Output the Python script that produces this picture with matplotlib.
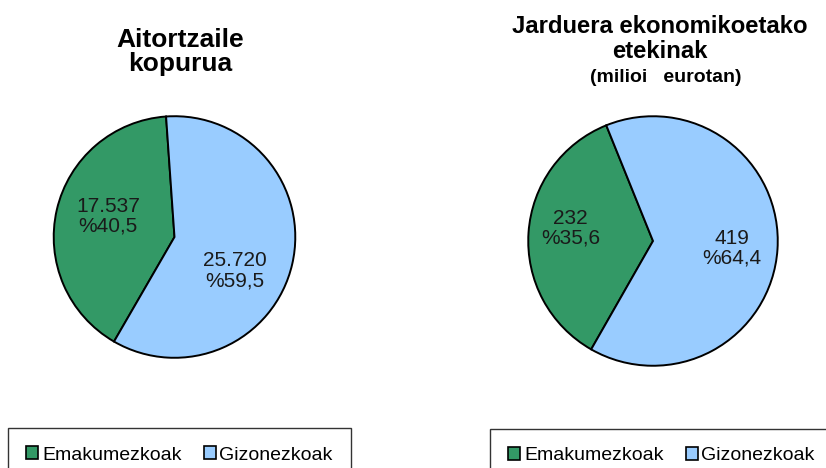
import matplotlib
matplotlib.use("Agg")
import matplotlib.pyplot as plt
from matplotlib.patches import Patch

plt.rcParams['font.family'] = ['Liberation Sans', 'DejaVu Sans']

categories = ["Emakumezkoak", "Gizonezkoak"]
colors = ["#339966", "#99ccff"]

# Aitortzaile kopurua
count_values = [17537, 25720]
count_labels = ["17.537", "25.720"]
count_pct = ["40,5", "59,5"]

# Jarduera ekonomikoetako etekinak (milioi eurotan)
income_values = [232, 419]
income_labels = ["232", "419"]
income_pct = ["35,6", "64,4"]

W, H = 826, 468
fig = plt.figure(figsize=(W / 100, H / 100), dpi=100)


def px_axes(cx, cy, r):
    return fig.add_axes([(cx - r) / W, (H - cy - r) / H, 2 * r / W, 2 * r / H])


def draw_pie(ax, values, labels, pcts, start, label_pos):
    texts = iter([f"{l}\n%{p}" for l, p in zip(labels, pcts)])
    wedges, _, autotexts = ax.pie(
        values, colors=colors, startangle=start, counterclock=True,
        autopct=lambda p: next(texts),
        wedgeprops=dict(edgecolor="black", linewidth=1.4),
        textprops=dict(fontsize=15, color="#1a1a1a", linespacing=1.05))
    # Excel-style label placement inside each slice
    for t, pos in zip(autotexts, label_pos):
        t.set_position(pos)
    ax.set_xlim(-1.01, 1.01)
    ax.set_ylim(-1.01, 1.01)
    ax.set_aspect("equal")
    return wedges


ax1 = px_axes(174.5, 237, 122)
draw_pie(ax1, count_values, count_labels, count_pct, 94,
         [(-0.55, 0.17), (0.5, -0.28)])

ax2 = px_axes(653, 241, 126)
draw_pie(ax2, income_values, income_labels, income_pct, 112,
         [(-0.66, 0.1), (0.63, -0.06)])

fig.text(180.5 / W, 1 - 52 / H, "Aitortzaile\nkopurua", ha="center", va="center",
         fontsize=19, fontweight="bold", linespacing=1.0)
fig.text(660 / W, 1 - 39 / H, "Jarduera ekonomikoetako\netekinak", ha="center", va="center",
         fontsize=17.2, fontweight="bold", linespacing=1.1)
fig.text(666 / W, 1 - 78 / H, "(milioi   eurotan)", ha="center", va="center",
         fontsize=14, fontweight="bold")

handles = [Patch(facecolor=c, edgecolor="black", linewidth=1.2) for c in colors]


def add_legend(x0, y0):
    leg = fig.legend(handles, categories, loc="upper left",
                     bbox_to_anchor=(x0 / W, 1 - y0 / H), ncol=2, frameon=True,
                     fancybox=False, edgecolor="black", fontsize=14,
                     handlelength=0.6, handleheight=0.6, handletextpad=0.2,
                     columnspacing=1.15, borderpad=0.95, borderaxespad=0)
    leg.get_frame().set_linewidth(1.0)
    return leg


add_legend(8, 428)
add_legend(490, 429)

fig.savefig("out.png", dpi=100, facecolor="white")
